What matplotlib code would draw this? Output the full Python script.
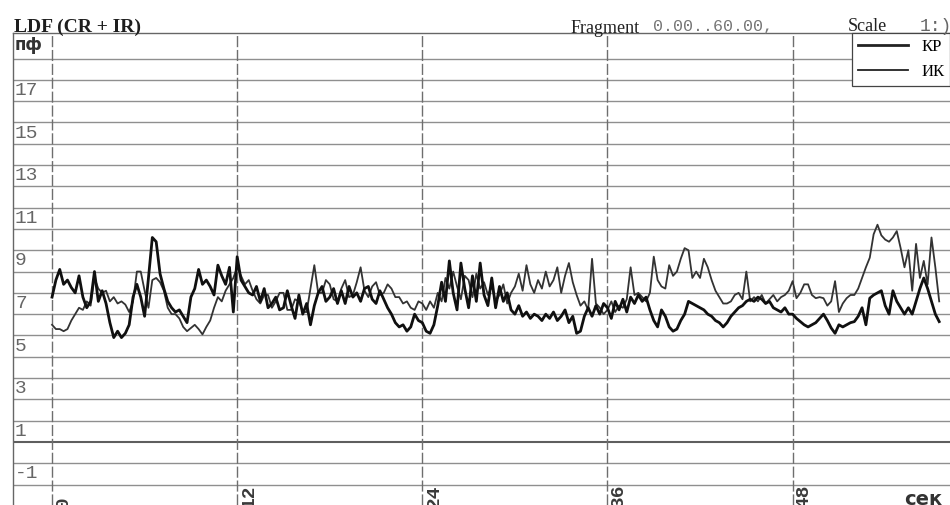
import numpy as np
import matplotlib
matplotlib.use("Agg")
import matplotlib.pyplot as plt

step = 0.25
kr = [7.8, 8.6, 9.1, 8.4, 8.6, 8.25, 8.0, 8.8,
      7.8, 7.3, 7.6, 9.0, 7.6, 8.1, 7.5, 6.6,
      5.9, 6.2, 5.9, 6.1, 6.5, 7.8, 8.4, 7.8,
      6.9, 8.7, 10.6, 10.4, 8.9, 8.2, 7.6, 7.3,
      7.1, 7.2, 6.9, 6.6, 7.8, 8.2, 9.1, 8.4,
      8.6, 8.3, 7.9, 9.3, 8.8, 8.4, 9.2, 7.1,
      9.7, 8.6, 8.3, 8.0, 7.9, 8.3, 7.6, 8.2,
      7.3, 7.5, 7.8, 7.2, 7.3, 8.1, 7.4, 6.8,
      7.9, 7.0, 7.5, 6.5, 7.4, 8.0, 8.3, 7.6,
      7.8, 8.2, 7.5, 8.1, 7.5, 8.3, 7.8, 8.0,
      7.6, 8.2, 8.3, 7.7, 7.5, 8.1, 7.7, 7.3,
      7.0, 6.6, 6.4, 6.5, 6.2, 6.4, 7.0, 6.7,
      6.6, 6.2, 6.1, 6.5, 7.4, 8.5, 7.6, 9.5,
      8.0, 7.2, 9.4, 8.2, 7.3, 8.8, 7.6, 9.4,
      7.9, 7.4, 8.7, 7.3, 8.3, 7.6, 8.0, 7.2,
      7.0, 7.4, 6.9, 7.1, 6.8, 7.0, 6.9, 6.7,
      7.0, 6.8, 7.1, 6.7, 6.9, 7.2, 6.6, 6.9,
      6.1, 6.2, 6.9, 7.3, 6.9, 7.4, 7.0, 7.5,
      7.3, 6.8, 7.6, 7.2, 7.7, 7.1, 7.8, 7.5,
      7.9, 7.6, 7.8, 7.2, 6.7, 6.4, 7.2, 6.9,
      6.4, 6.2, 6.3, 6.7, 7.0, 7.6, 7.5, 7.4,
      7.3, 7.2, 7.0, 6.9, 6.7, 6.6, 6.4, 6.6,
      6.9, 7.1, 7.3, 7.4, 7.6, 7.7, 7.6, 7.8,
      7.7, 7.5, 7.6, 7.3, 7.2, 7.1, 7.3, 7.0,
      7.0, 6.8, 6.65, 6.5, 6.4, 6.5, 6.6, 6.8,
      7.0, 6.7, 6.35, 6.1, 6.5, 6.4, 6.5, 6.6,
      6.65, 6.9, 7.3, 6.5, 7.75, 7.9, 8.0, 8.1,
      7.4, 7.0, 8.1, 7.6, 7.3, 7.0, 7.3, 7.0,
      7.6, 8.2, 8.7, 8.2, 7.6, 7.0, 6.65]
ik = [6.5, 6.3, 6.3, 6.2, 6.3, 6.7, 7.0, 7.3,
      7.2, 7.6, 7.4, 8.7, 8.2, 8.0, 8.1, 7.6,
      7.8, 7.5, 7.6, 7.45, 7.1, 7.6, 9.0, 9.0,
      8.1, 7.3, 8.6, 8.7, 8.5, 8.1, 7.3, 7.0,
      7.0, 6.8, 6.4, 6.2, 6.35, 6.5, 6.3, 6.05,
      6.4, 6.7, 7.3, 7.8, 7.6, 8.1, 8.4, 8.7,
      9.2, 8.8, 8.4, 8.6, 8.1, 7.7, 7.5, 7.9,
      7.9, 7.3, 7.6, 8.0, 8.0, 7.2, 7.2, 7.7,
      7.6, 7.1, 7.1, 8.2, 9.3, 8.0, 8.0, 8.6,
      8.4, 7.7, 7.6, 8.2, 8.6, 7.8, 7.9, 8.5,
      9.2, 8.1, 7.8, 8.3, 8.5, 7.9, 8.0, 8.4,
      8.2, 7.8, 7.8, 7.5, 7.6, 7.3, 7.2, 7.6,
      7.5, 7.2, 7.6, 7.3, 8.0, 7.6, 8.7, 8.2,
      9.0, 8.3, 7.7, 8.8, 8.6, 7.8, 8.9, 8.2,
      8.5, 7.9, 8.3, 7.6, 7.9, 8.4, 7.5, 8.0,
      8.3, 8.9, 8.1, 9.3, 8.4, 8.0, 8.6, 8.2,
      9.0, 8.3, 8.6, 9.2, 8.0, 8.8, 9.4, 8.5,
      7.9, 7.4, 7.6, 7.2, 9.6, 7.5, 7.3, 7.0,
      7.2, 7.6, 7.1, 7.4, 7.3, 7.7, 9.2, 7.9,
      8.0, 7.8, 7.6, 8.0, 9.7, 8.6, 8.3, 8.2,
      9.3, 8.8, 9.0, 9.6, 10.1, 10.0, 8.7, 9.0,
      8.7, 9.6, 9.2, 8.6, 8.1, 7.8, 7.5, 7.5,
      7.6, 7.9, 8.0, 7.7, 9.0, 7.6, 7.8, 7.6,
      7.9, 7.5, 7.7, 7.9, 7.6, 7.8, 7.9, 8.1,
      8.55, 7.75, 8.0, 8.4, 8.4, 7.9, 7.75, 7.8,
      7.75, 7.4, 7.6, 8.55, 7.1, 7.5, 7.75, 7.9,
      7.9, 8.2, 8.7, 9.2, 9.65, 10.75, 11.2, 10.7,
      10.5, 10.4, 10.6, 10.9, 10.1, 9.2, 10.0, 8.1,
      10.3, 8.7, 9.5, 8.4, 10.6, 9.2, 7.6]

y_labels = [-1, 1, 3, 5, 7, 9, 11, 13, 15, 17]
x_labels = [0, 12, 24, 36, 48]
legend_names = ["КР", "ИК"]

t = np.arange(len(kr)) * step

fig = plt.figure(figsize=(9.5, 5.05), dpi=100)
ax = fig.add_axes([13 / 950, 0, 1 - 13 / 950, (505 - 33) / 505])
ax.set_xlim(-2.53, 58.2)
ax.set_ylim(-1.96, 20.2)

# grid like on the printout
for v in range(-1, 20):
    lw = 1.5 if v == 1 else 1.0
    col = "#5e5e5e" if v == 1 else "#8f8f8f"
    ax.axhline(v, color=col, lw=lw, zorder=1)
for xv in x_labels:
    ax.axvline(xv, color="#6e6e6e", lw=1.0, ls=(0, (8, 2)), zorder=1)

ax.plot(t, ik, color="#333333", lw=1.3, label=legend_names[1], zorder=3)
ax.plot(t, kr, color="#101010", lw=2.0, label=legend_names[0], zorder=4)

for v in y_labels:
    ax.text(-2.4, v + 0.1, str(v), family="Liberation Mono", fontsize=14,
            color="#666666", va="bottom", ha="left")
ax.text(-2.4, 19.2, "пф", family="DejaVu Sans", fontsize=12, weight="bold",
        color="#333333", va="bottom", ha="left")

for xv in x_labels:
    ax.text(xv + 0.2, -2.1, str(xv), family="Liberation Mono", fontsize=14,
            weight="bold", color="#3a3a3a", rotation=90, ha="left",
            va="bottom", clip_on=False)
ax.text(55.2, -1.7, "сек", family="DejaVu Sans", fontsize=14, weight="bold",
        color="#333333", va="center", ha="left", clip_on=False)

ax.set_xticks([])
ax.set_yticks([])
for s in ["right", "bottom"]:
    ax.spines[s].set_visible(False)
for s in ["left", "top"]:
    ax.spines[s].set_color("#666666")
    ax.spines[s].set_linewidth(1.0)

handles, labels = ax.get_legend_handles_labels()
leg = ax.legend(handles[::-1], labels[::-1], loc="upper right",
                borderaxespad=0, fancybox=False, framealpha=1,
                edgecolor="#444444", handlelength=3.0, handletextpad=0.8,
                borderpad=0.35, labelspacing=0.55,
                prop={"family": "Liberation Serif", "size": 12})
leg.get_frame().set_linewidth(0.9)
for line in leg.get_lines():
    line.set_color("#222222")

fig.text(14 / 950, 1 - 27 / 505, "LDF (CR + IR)", family="Liberation Serif",
         fontsize=14, weight="bold", color="#1e1e1e", va="center", ha="left")
fig.text(571 / 950, 1 - 33 / 505, "Fragment", family="Liberation Serif",
         fontsize=13, color="#222222", va="baseline", ha="left")
fig.text(653 / 950, 1 - 31 / 505, "0.00..60.00,", family="Liberation Mono",
         fontsize=12, color="#777777", va="baseline", ha="left")
fig.text(848 / 950, 1 - 31 / 505, "Scale", family="Liberation Serif",
         fontsize=13, color="#222222", va="baseline", ha="left")
fig.text(920 / 950, 1 - 31 / 505, "1:)", family="Liberation Mono",
         fontsize=13, color="#666666", va="baseline", ha="left")

fig.savefig("out.png", dpi=100)
